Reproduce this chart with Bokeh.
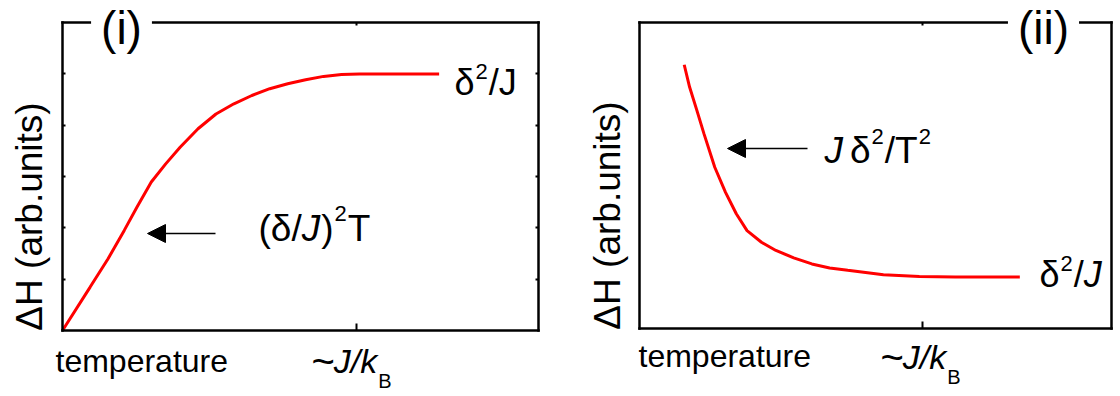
import math
from bokeh.plotting import figure
from bokeh.models import (Range1d, LinearAxis, FixedTicker, Label, Arrow, NormalHead)
from bokeh.layouts import row
from bokeh.embed import file_html
from bokeh.resources import INLINE

# ---------------- data ----------------
# panel (i): dH rises ~ (delta/J)^2 T, saturates at delta^2/J
temp_i = [0.0, 0.094, 0.155, 0.210, 0.253, 0.302, 0.351, 0.400, 0.461, 0.522, 0.583,
          0.644, 0.705, 0.766, 0.827, 0.888, 0.949, 1.010, 1.281]
dh_i = [0.0, 0.141, 0.233, 0.325, 0.400, 0.482, 0.541, 0.595, 0.655, 0.703, 0.736,
        0.763, 0.785, 0.801, 0.814, 0.825, 0.831, 0.833, 0.833]
# panel (ii): dH falls ~ J delta^2/T^2, saturates at delta^2/J
temp_ii = [0.158, 0.177, 0.203, 0.228, 0.266, 0.304, 0.342, 0.380, 0.431, 0.482, 0.545,
           0.609, 0.672, 0.736, 0.862, 0.989, 1.116, 1.344]
dh_ii = [0.862, 0.789, 0.712, 0.636, 0.527, 0.445, 0.375, 0.320, 0.282, 0.255, 0.231,
         0.211, 0.198, 0.190, 0.176, 0.170, 0.168, 0.168]

x_ticks = [1.0]                       # ~J/kB
y_ticks_i = [0.167, 0.333, 0.5, 0.667, 0.833]
xmax_i, xmax_ii = 1.619, 1.668

FONT = "Liberation Sans"
W = {'(': .333, ')': .333, 'δ': .556, '/': .278, 'J': .5, 'T': .611, '~': .584,
     'k': .5, 'B': .667, '2': .556, ' ': .278, 'i': .222}
FIG_W, FIG_H, PAD = 560, 392, 4
BASE_FIX = 8  # px: raise alphabetic baselines


def twidth(s, size):
    return sum(W.get(c, .55) for c in s) * size


def make_panel(x0, box, xmax, side_ticks):
    """box = (left, right, top, bottom) of the plot box in page pixels."""
    L, R, T, B = box
    kx = (R - L) / xmax
    ky = (B - T) / 1.0
    fl, fr, ft, fb = x0 + PAD, x0 + FIG_W - PAD, PAD, FIG_H - PAD
    p = figure(width=FIG_W, height=FIG_H,
               x_range=Range1d((fl - L) / kx, (fr - L) / kx),
               y_range=Range1d((B - fb) / ky, (B - ft) / ky),
               x_axis_location=None, y_axis_location=None,
               output_backend="svg", toolbar_location=None,
               min_border_left=PAD, min_border_right=PAD,
               min_border_top=PAD, min_border_bottom=PAD)
    p.outline_line_color = None
    p.xgrid.visible = False
    p.ygrid.visible = False
    p.background_fill_color = "white"
    p.border_fill_color = "white"

    def axis(ticks, tin, loc, fixed, bounds):
        a = LinearAxis(ticker=FixedTicker(ticks=ticks, minor_ticks=[]),
                       fixed_location=fixed, bounds=bounds)
        a.major_tick_in = tin
        a.major_tick_out = 0
        a.minor_tick_in = 0
        a.minor_tick_out = 0
        a.major_tick_line_width = 2
        a.major_tick_line_color = "black"
        a.axis_line_width = 2.5
        a.axis_line_color = "black"
        a.axis_line_cap = "square"
        a.major_label_text_font_size = "1px"
        a.major_label_text_color = None
        a.major_label_standoff = 0
        a.axis_label = None
        p.add_layout(a, loc)

    axis(x_ticks, 7, "below", 0, (0, xmax))
    axis(x_ticks, 3, "above", 1, (0, xmax))
    axis(side_ticks, 3, "left", 0, (0, 1))
    axis(side_ticks, 3, "right", xmax, (0, 1))

    def X(px):
        return (px - L) / kx

    def Y(py):
        return (B - py) / ky
    return p, X, Y


def rich(p, x, y, pieces):
    """pieces: (text, size, style, dy, gap_before)"""
    off = 0.0
    for txt, size, style, dy, gap in pieces:
        off += gap
        p.add_layout(Label(x=x, y=y, x_offset=off, y_offset=dy + BASE_FIX, text=txt,
                           text_font=FONT, text_font_size=f"{size}px",
                           text_font_style=style, text_baseline="alphabetic",
                           text_align="left", text_color="black"))
        off += twidth(txt, size)


def centered(p, x, y, text, size, angle=0.0, pad=0):
    p.add_layout(Label(x=x, y=y, text=text, text_font=FONT, text_font_size=f"{size}px",
                       angle=angle, text_align="center", text_baseline="middle",
                       text_color="black",
                       background_fill_color="white" if pad else None, padding=pad))


ARROW_HEAD = dict(size=18, fill_color="black", line_color="black")

# ---------------- panel (i) ----------------
p1, X, Y = make_panel(0, (62, 538, 22, 330), xmax_i, y_ticks_i)
p1.line(temp_i, dh_i, line_color="#ff0000", line_width=3)
centered(p1, X(121), Y(27), "(i)", 46, pad=10)
rich(p1, X(454), Y(90), [("δ", 36, "normal", 0, 0), ("2", 22, "normal", 11, 1),
                         ("/J", 36, "normal", 0, 1)])
rich(p1, X(258), Y(236), [("(δ/", 37, "normal", 0, 0), ("J", 37, "italic", 0, 0),
                          (")", 37, "normal", 0, 1), ("2", 22, "normal", 15, 1),
                          ("T", 37, "normal", 0, 1)])
p1.add_layout(Arrow(end=NormalHead(**ARROW_HEAD),
                    x_start=X(215), y_start=Y(233), x_end=X(147), y_end=Y(233),
                    line_width=1.5, line_color="black"))
centered(p1, X(29), Y(216), "ΔH (arb.units)", 37, angle=math.pi / 2)
rich(p1, X(55), Y(368), [("temperature", 32, "normal", 0, 0)])
rich(p1, X(311), Y(368), [("~", 40, "normal", 0, 0), ("J/k", 34, "italic", 0, -1),
                          ("B", 20, "normal", -20, 1)])

# ---------------- panel (ii) ----------------
p2, X, Y = make_panel(560, (639, 1111, 22, 328), xmax_ii, [])
p2.line(temp_ii, dh_ii, line_color="#ff0000", line_width=3)
centered(p2, X(1043), Y(27), "(ii)", 46, pad=10)
rich(p2, X(824), Y(158), [("J", 37, "italic", 0, 0), ("δ", 37, "normal", 0, 7),
                          ("2", 22, "normal", 14, 1), ("/T", 37, "normal", 0, 1),
                          ("2", 22, "normal", 14, 1)])
p2.add_layout(Arrow(end=NormalHead(**ARROW_HEAD),
                    x_start=X(807), y_start=Y(148), x_end=X(727), y_end=Y(148),
                    line_width=1.5, line_color="black"))
rich(p2, X(1039), Y(282), [("δ", 36, "normal", 0, 0), ("2", 22, "normal", 11, 1),
                           ("/", 36, "normal", 0, 1), ("J", 36, "italic", 0, 0)])
centered(p2, X(607), Y(215), "ΔH (arb.units)", 37, angle=math.pi / 2)
rich(p2, X(638), Y(363), [("temperature", 32, "normal", 0, 0)])
rich(p2, X(880), Y(364), [("~", 40, "normal", 0, 0), ("J/k", 34, "italic", 0, -1),
                          ("B", 20, "normal", -20, 1)])

layout = row(p1, p2)
open("out.html", "w").write(file_html(layout, INLINE))
